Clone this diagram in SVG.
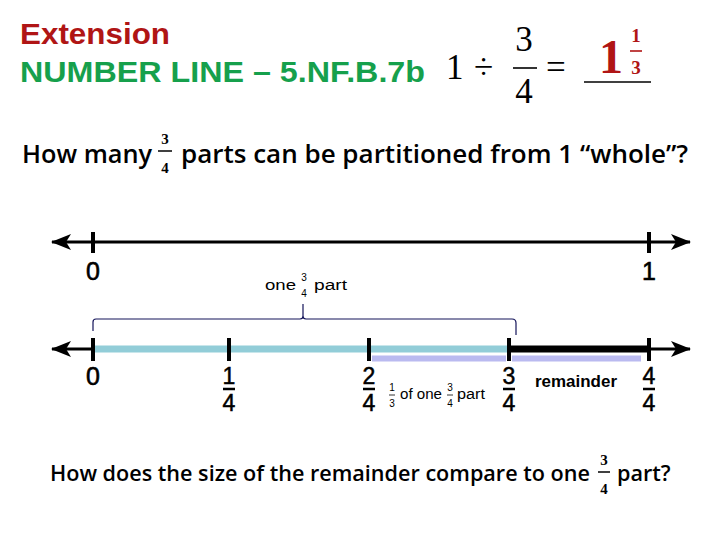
<svg xmlns="http://www.w3.org/2000/svg" width="720" height="540" viewBox="0 0 720 540">
<style>
.title{font-family:"Liberation Sans",Arial,sans-serif;font-weight:bold;font-size:30px}
.math{font-family:"Liberation Serif","Times New Roman",serif}
.q{font-family:"Open Sans","Liberation Sans",sans-serif;font-weight:600;fill:#000}
.qf{font-family:"Liberation Serif",serif;font-weight:bold;font-size:15px;text-anchor:middle}
.nl{stroke:#000;stroke-width:3;fill:none}
.tick{stroke:#000;stroke-width:4}
.lbl{font-family:"Liberation Sans",Arial,sans-serif;font-size:25px;text-anchor:middle;fill:#000;stroke:#000;stroke-width:0.6}
.flbl{font-family:"Liberation Sans",Arial,sans-serif;font-size:23px;text-anchor:middle;fill:#000;stroke:#000;stroke-width:0.5}
.small{font-family:"Liberation Sans",Arial,sans-serif;font-size:14px;fill:#000}
.smf{font-family:"Liberation Sans",Arial,sans-serif;font-size:10px;text-anchor:middle;fill:#000}
.fbar{stroke:#000;stroke-width:2.5}
</style>
<defs>
<marker id="ah" viewBox="0 0 20 16" refX="19" refY="8" markerWidth="20" markerHeight="16" markerUnits="userSpaceOnUse" orient="auto-start-reverse">
<path d="M0,0 L20,8 L0,16 L5,8 Z" fill="#000"/>
</marker>
</defs>

<g id="title">
<text class="title" x="20" y="44" fill="#b01515" textLength="150" lengthAdjust="spacingAndGlyphs">Extension</text>
<text class="title" x="20" y="82" fill="#16a04c" textLength="405" lengthAdjust="spacingAndGlyphs">NUMBER LINE – 5.NF.B.7b</text>
</g>

<g id="equation">
<text class="math" x="446" y="79" font-size="35">1</text>
<text class="math" x="474" y="79" font-size="35">÷</text>
<text class="math" x="524" y="51" font-size="35" text-anchor="middle">3</text>
<line x1="513" y1="68" x2="537" y2="68" stroke="#000" stroke-width="1.6"/>
<text class="math" x="524" y="103" font-size="35" text-anchor="middle">4</text>
<text class="math" x="546" y="79" font-size="35">=</text>
<line x1="584" y1="82" x2="651" y2="82" stroke="#000" stroke-width="1.6"/>
<text class="math" x="611" y="73" font-size="48" font-weight="bold" fill="#b01515" text-anchor="middle">1</text>
<text class="math" x="636" y="42" font-size="19" font-weight="bold" fill="#b01515" text-anchor="middle">1</text>
<line x1="630" y1="51" x2="642" y2="51" stroke="#b01515" stroke-width="1.6"/>
<text class="math" x="636" y="74" font-size="19" font-weight="bold" fill="#b01515" text-anchor="middle">3</text>
</g>

<g id="question1">
<text class="q" x="22" y="163" font-size="25.3">How many</text>
<text class="qf" x="165" y="144">3</text>
<line x1="158" y1="151" x2="172" y2="151" stroke="#000" stroke-width="1.5"/>
<text class="qf" x="165" y="173">4</text>
<text class="q" x="181" y="163" font-size="26">parts can be partitioned from 1 “whole”?</text>
</g>

<g id="numberline-whole">
<line class="nl" x1="52" y1="242" x2="690" y2="242" marker-start="url(#ah)" marker-end="url(#ah)"/>
<line class="tick" x1="93" y1="232" x2="93" y2="253"/>
<line class="tick" x1="649" y1="232" x2="649" y2="253"/>
<text class="lbl" x="93" y="280">0</text>
<text class="lbl" x="649" y="280">1</text>
</g>

<g id="label-one-three-quarter-part">
<text class="small" x="265" y="290" textLength="31" lengthAdjust="spacingAndGlyphs">one</text>
<text class="smf" x="304" y="281">3</text>
<text class="smf" x="304" y="297">4</text>
<text class="small" x="314" y="290" textLength="33" lengthAdjust="spacingAndGlyphs">part</text>
</g>

<g id="connectors">
<path d="M93,331 L93,322 Q93,319 96,319 L300,319 Q303,319 303,316 L303,304 M303,316 Q303,319 306,319 L512,319 Q516,319 516,323 L516,335" fill="none" stroke="#14145a" stroke-width="1.2"/>
</g>

<g id="numberline-quarters">
<line class="nl" x1="52" y1="349" x2="93" y2="349" marker-start="url(#ah)"/>
<line x1="93" y1="349" x2="509" y2="349" stroke="#92cdd8" stroke-width="7"/>
<line x1="509" y1="349" x2="649" y2="349" stroke="#000" stroke-width="7"/>
<line class="nl" x1="649" y1="349" x2="690" y2="349" marker-end="url(#ah)"/>
<line x1="372" y1="358.5" x2="506" y2="358.5" stroke="#babaf0" stroke-width="6"/>
<line x1="512" y1="358.5" x2="641" y2="358.5" stroke="#babaf0" stroke-width="6"/>
<line class="tick" x1="93" y1="338" x2="93" y2="361"/>
<line class="tick" x1="229" y1="338" x2="229" y2="361"/>
<line class="tick" x1="369" y1="338" x2="369" y2="361"/>
<line class="tick" x1="509" y1="338" x2="509" y2="361"/>
<line class="tick" x1="649" y1="338" x2="649" y2="361"/>
<text class="lbl" x="93" y="385">0</text>
<text class="flbl" x="229" y="384">1</text>
<line class="fbar" x1="223" y1="389" x2="235" y2="389"/>
<text class="flbl" x="229" y="411">4</text>
<text class="flbl" x="369" y="384">2</text>
<line class="fbar" x1="363" y1="389" x2="375" y2="389"/>
<text class="flbl" x="369" y="411">4</text>
<text class="flbl" x="509" y="384">3</text>
<line class="fbar" x1="503" y1="389" x2="515" y2="389"/>
<text class="flbl" x="509" y="411">4</text>
<text class="flbl" x="649" y="384">4</text>
<line class="fbar" x1="643" y1="389" x2="655" y2="389"/>
<text class="flbl" x="649" y="411">4</text>
<text x="535" y="387" font-family="Liberation Sans,Arial,sans-serif" font-size="17" font-weight="bold" textLength="82" lengthAdjust="spacingAndGlyphs">remainder</text>
</g>

<g id="label-one-third">
<text class="smf" x="392" y="391">1</text>
<line x1="389" y1="395" x2="395" y2="395" stroke="#000" stroke-width="0.8"/>
<text class="smf" x="392" y="407">3</text>
<text class="small" x="400" y="399" textLength="42" lengthAdjust="spacingAndGlyphs">of one</text>
<text class="smf" x="450" y="391">3</text>
<line x1="447" y1="395" x2="453" y2="395" stroke="#000" stroke-width="0.8"/>
<text class="smf" x="450" y="407">4</text>
<text class="small" x="457" y="399" textLength="28" lengthAdjust="spacingAndGlyphs">part</text>
</g>

<g id="question2">
<text class="q" x="50" y="481" font-size="21.6">How does the size of the remainder compare to one</text>
<text class="qf" x="604" y="465">3</text>
<line x1="598" y1="472" x2="610" y2="472" stroke="#000" stroke-width="1.5"/>
<text class="qf" x="604" y="494">4</text>
<text class="q" x="617" y="481" font-size="21.6">part?</text>
</g>
</svg>
